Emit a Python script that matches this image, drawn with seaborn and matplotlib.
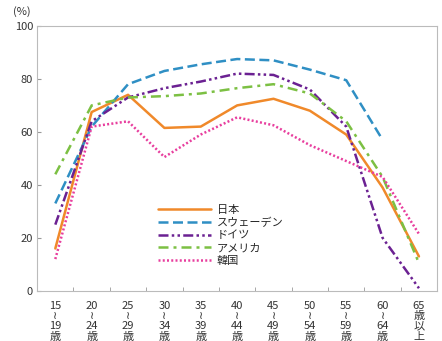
import numpy as np
import pandas as pd
import matplotlib
matplotlib.use("Agg")
import matplotlib.pyplot as plt
import seaborn as sns

# age groups (x axis)
age_labels = ["15\n≀\n19\n歳", "20\n≀\n24\n歳", "25\n≀\n29\n歳", "30\n≀\n34\n歳",
              "35\n≀\n39\n歳", "40\n≀\n44\n歳", "45\n≀\n49\n歳", "50\n≀\n54\n歳",
              "55\n≀\n59\n歳", "60\n≀\n64\n歳", "65\n歳\n以\n上"]

# labour force participation rate (%)
japan = [16, 67.5, 74, 61.5, 62, 70, 72.5, 68, 59, 39, 13]
sweden = [33, 62, 78, 83, 85.5, 87.5, 87, 83.5, 79.5, 57, np.nan]
germany = [25, 64, 73, 76.5, 79, 82, 81.5, 76, 62, 20, 1]
usa = [44, 70, 73, 73.5, 74.5, 76.5, 78, 74.5, 64, 43, 10.5]
korea = [12, 62, 64, 50.5, 59, 65.5, 62.5, 55, 49, 43, 21.5]

countries = ["日本", "スウェーデン", "ドイツ", "アメリカ", "韓国"]
series = [japan, sweden, germany, usa, korea]

rows = []
for name, vals in zip(countries, series):
    for i, v in enumerate(vals):
        if not np.isnan(v):
            rows.append({"age": i, "rate": v, "country": name})
df = pd.DataFrame(rows)

palette = {"日本": "#F0892A", "スウェーデン": "#2F8FC4", "ドイツ": "#6B2192",
           "アメリカ": "#7CC043", "韓国": "#E83E9E"}
dashes = {"日本": "", "スウェーデン": (4, 1.8), "ドイツ": (4, 1.3, 1, 1.3, 1, 1.3),
          "アメリカ": (4, 2, 1.2, 2), "韓国": (0.8, 0.9)}

sns.set_style("white")
plt.rcParams["font.family"] = ["Noto Sans CJK JP", "DejaVu Sans"]

fig = plt.figure(figsize=(4.42, 3.41), dpi=100)
ax = fig.add_axes([0.084, 0.147, 0.905, 0.777])

sns.lineplot(data=df, x="age", y="rate", hue="country", style="country",
             hue_order=countries, style_order=countries,
             palette=palette, dashes=dashes, linewidth=1.8, ax=ax)

ax.set_xlim(-0.5, 10.5)
ax.set_ylim(0, 100)
ax.set_yticks([0, 20, 40, 60, 80, 100])
ax.set_yticklabels(["0", "20", "40", "60", "80", "100"], fontsize=8, color="#333333")
ax.set_xticks(range(len(age_labels)))
ax.set_xticklabels(age_labels, fontsize=8, color="#333333", linespacing=1.05)
ax.set_xticks(np.arange(0.5, 10, 1), minor=True)
ax.tick_params(axis="x", which="major", length=0, pad=7)
ax.tick_params(axis="x", which="minor", length=3, direction="in", color="#999999", bottom=True)
ax.tick_params(axis="y", length=3, direction="in", color="#999999", left=True, pad=3)
ax.set_xlabel("")
ax.set_ylabel("")
for s in ax.spines.values():
    s.set_color("#bbbbbb")
    s.set_linewidth(0.8)

fig.text(0.03, 0.955, "(%)", fontsize=8, color="#333333")

leg = ax.legend(loc="lower left", bbox_to_anchor=(0.28, 0.06), fontsize=8,
                frameon=True, handlelength=4.8, handletextpad=0.5,
                labelspacing=0.25, borderpad=0.3)
leg.get_frame().set_edgecolor("none")
leg.get_frame().set_facecolor("white")
for line in leg.get_lines():
    line.set_linewidth(1.8)

fig.savefig("out.png", dpi=100)
